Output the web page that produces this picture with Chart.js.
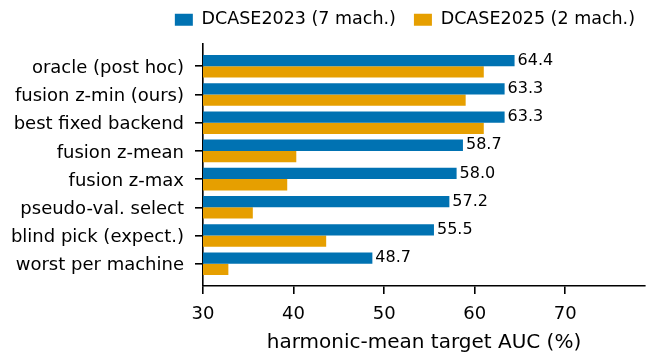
<!DOCTYPE html>
<html>
<head>
<meta charset="utf-8">
<script src="https://cdn.jsdelivr.net/npm/chart.js@4/dist/chart.umd.min.js"></script>
<style>
html,body{margin:0;padding:0;background:#fff;}
#wrap{width:646px;height:352px;}
</style>
</head>
<body>
<div id="wrap"><canvas id="c" width="646" height="352"></canvas></div>
<script>
const categories = ['oracle (post hoc)', 'fusion z-min (ours)', 'best fixed backend', 'fusion z-mean', 'fusion z-max', 'pseudo-val. select', 'blind pick (expect.)', 'worst per machine'];
const dcase2023 = [64.4, 63.3, 63.3, 58.7, 58.0, 57.2, 55.5, 48.7];
const dcase2025 = [61.0, 59.0, 61.0, 40.3, 39.3, 35.5, 43.6, 32.8];
const seriesNames = ['DCASE2023 (7 mach.)', 'DCASE2025 (2 mach.)'];
const xTickValues = [30, 40, 50, 60, 70];
const xTitle = 'harmonic-mean target AUC (%)';

const FONT = 'DejaVu Sans';
const BLUE = '#0072B2';
const ORANGE = '#E69F00';

const valueLabels = {
  id: 'valueLabels',
  afterDatasetsDraw(chart) {
    const ctx = chart.ctx;
    const meta = chart.getDatasetMeta(0);
    ctx.save();
    ctx.font = '16px "' + FONT + '"';
    ctx.fillStyle = '#000';
    ctx.textAlign = 'left';
    ctx.textBaseline = 'middle';
    meta.data.forEach((bar, i) => {
      ctx.fillText(dcase2023[i].toFixed(1), bar.x + 3, bar.y);
    });
    ctx.restore();
  }
};

const shiftLegend = {
  id: 'shiftLegend',
  afterLayout(chart) {
    const lg = chart.legend;
    lg.top -= 7; lg.bottom -= 7;
    lg.left += 8; lg.right += 8;
  }
};

new Chart(document.getElementById('c'), {
  type: 'bar',
  data: {
    datasets: [
      { label: seriesNames[0], data: dcase2023.map((v, i) => ({x: v, y: i})), backgroundColor: BLUE, borderWidth: 0, categoryPercentage: 0.8, barPercentage: 1.0 },
      { label: seriesNames[1], data: dcase2025.map((v, i) => ({x: v, y: i})), backgroundColor: ORANGE, borderWidth: 0, categoryPercentage: 0.8, barPercentage: 1.0 }
    ]
  },
  options: {
    indexAxis: 'y',
    responsive: false,
    devicePixelRatio: 1,
    animation: false,
    layout: { padding: { left: 0, right: 1, top: 0, bottom: 0 } },
    plugins: {
      legend: {
        position: 'top',
        align: 'end',
        maxHeight: 44,
        labels: { boxWidth: 18, boxHeight: 12, padding: 18, color: '#000', font: { family: FONT, size: 17.5 } }
      },
      tooltip: { enabled: false }
    },
    scales: {
      x: {
        type: 'linear',
        min: 30,
        max: 78.8,
        offset: false,
        afterBuildTicks(axis) { axis.ticks = xTickValues.map(v => ({value: v})); },
        afterFit(scale) { scale.height = 66; },
        grid: { offset: false, drawOnChartArea: false, drawTicks: true, tickLength: 8, color: '#000', lineWidth: 1.6 },
        border: { display: true, color: '#000', width: 1.6 },
        ticks: { color: '#000', padding: 10, font: { family: FONT, size: 18 }, maxRotation: 0 },
        title: { display: true, text: xTitle, color: '#000', font: { family: FONT, size: 20 }, padding: { top: 0, bottom: -3 } }
      },
      y: {
        type: 'linear',
        reverse: true,
        min: -0.79,
        max: 7.79,
        offset: false,
        afterBuildTicks(axis) { axis.ticks = categories.map((c, i) => ({value: i})); },
        afterFit(scale) { scale.width = 203; },
        grid: { offset: false, drawOnChartArea: false, drawTicks: true, tickLength: 8, color: '#000', lineWidth: 1.6 },
        border: { display: true, color: '#000', width: 1.6 },
        ticks: { autoSkip: false, color: '#000', padding: 11, labelOffset: 2, font: { family: FONT, size: 18 }, callback: (v) => categories[v] }
      }
    }
  },
  plugins: [valueLabels, shiftLegend]
});
</script>
</body>
</html>
